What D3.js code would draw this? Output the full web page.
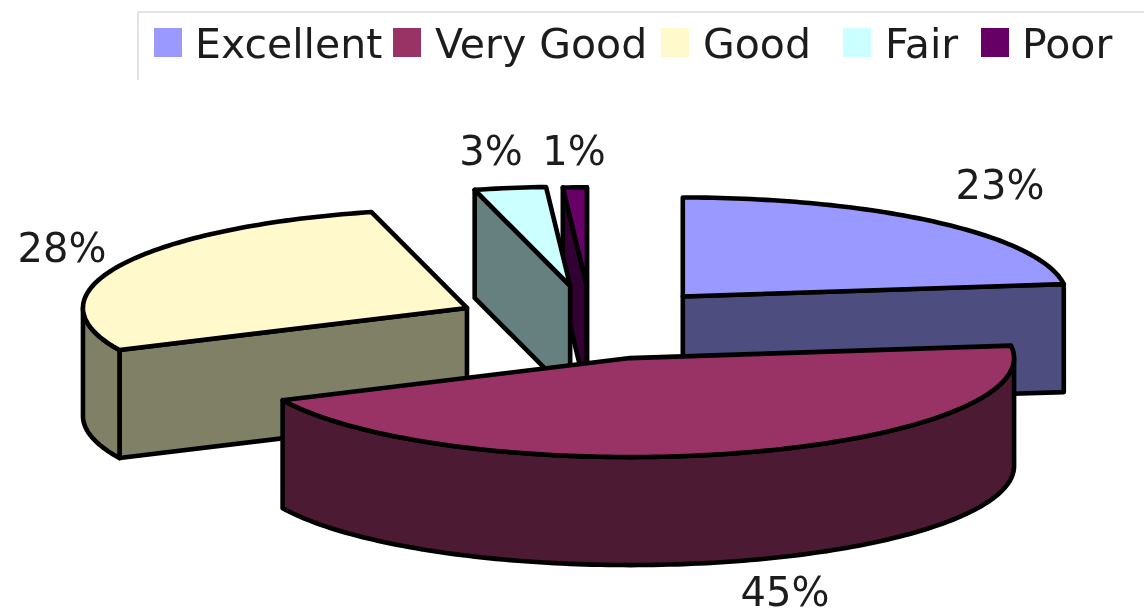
<!DOCTYPE html>
<html><head><meta charset="utf-8">
<script src="https://cdnjs.cloudflare.com/ajax/libs/d3/7.8.5/d3.min.js"></script>
<style>html,body{margin:0;padding:0;background:#fff}svg{display:block;filter:blur(.7px)}</style>
</head><body><svg id="c" width="1144" height="616"></svg>
<script>
const categories = ["Excellent","Very Good","Good","Fair","Poor"];
const values = [23,45,28,3,1];
const labels = ["23%","45%","28%","3%","1%"];
const topColors = ["#9999ff","#993366","#fff9cc","#ccffff","#660066"];
const sideColors = ["#4d4d80","#4d1a33","#808066","#668080","#330033"];

// layout
const W=1144,H=616, RX=384, RY=99, DEPTH=108;
const cx=599, cy=321;
const explode=[0.33,0.29,0.38,0.48,1.0];
const explodeY=[0.33,0.39,0.31,0.36,0.35];
const labelAt=[[1000,199],[785,606],[62,262],[491,165],[574,165]];
const legendSwatchX=[154,393,661,843,981];
const legendTextX=[195,435,703,885,1022];

const svg=d3.select("#c");
const sx=d3.scaleLinear().domain([-1,1]).range([-RX,RX]);
const sy=d3.scaleLinear().domain([-1,1]).range([RY,-RY]);
const line=d3.line();
const unit=a=>[Math.sin(a),Math.cos(a)];
const pie=d3.pie().sort(null).value(d=>d)(values);

const slices=pie.map((p,i)=>{
  const mid=(p.startAngle+p.endAngle)/2, [ux,uy]=unit(mid);
  const apex=[cx+sx(ux*explode[i]),cy+sy(uy*explodeY[i])];
  const pt=a=>{const [x,y]=unit(a);return [apex[0]+sx(x),apex[1]+sy(y)];};
  return {i,a0:p.startAngle,a1:p.endAngle,mid,apex,pt};
});
const down=p=>[p[0],p[1]+DEPTH];
const arcPts=(s,a,b)=>{const n=Math.max(2,Math.ceil((b-a)/0.02));return d3.range(n+1).map(k=>s.pt(a+(b-a)*k/n));};

function drawSlice(s){
  const g=svg.append("g").attr("stroke","#000").attr("stroke-width",4.6).attr("stroke-linejoin","round");
  const side=sideColors[s.i], top=topColors[s.i];
  const faces=[s.a0,s.a1].map(a=>{
    const P=s.pt(a), A=s.apex, M=s.pt(s.mid);
    let n=[-(P[1]-A[1]),P[0]-A[0]];
    if(n[0]*(M[0]-A[0])+n[1]*(M[1]-A[1])>0) n=[-n[0],-n[1]];
    return {P,vis:n[1]>0};
  });
  faces.filter(f=>f.vis).forEach(f=>{
    g.append("path").attr("fill",side).attr("d",line([s.apex,f.P,down(f.P),down(s.apex)])+"Z");
  });
  const lo=Math.max(s.a0,Math.PI/2), hi=Math.min(s.a1,Math.PI*1.5);
  if(hi>lo){
    const pts=arcPts(s,lo,hi);
    g.append("path").attr("fill",side).attr("d",line(pts.concat(pts.slice().reverse().map(down)))+"Z");
  }
  g.append("path").attr("fill",top).attr("d",line([s.apex].concat(arcPts(s,s.a0,s.a1)))+"Z");
}
[4,3,0,2,1].forEach(i=>drawSlice(slices[i]));

labels.forEach((t,i)=>svg.append("text").attr("x",labelAt[i][0]).attr("y",labelAt[i][1])
  .attr("text-anchor","middle").attr("font-family","DejaVu Sans").attr("font-size",40).attr("fill","#1c1c1c").text(t));

svg.append("path").attr("fill","none").attr("stroke","#dcdcdc").attr("stroke-width",1.5)
  .attr("d",line([[138,80],[138,12],[1144,12]]));
categories.forEach((c,i)=>{
  svg.append("rect").attr("x",legendSwatchX[i]).attr("y",28).attr("width",28).attr("height",29).attr("fill",topColors[i]);
  svg.append("text").attr("x",legendTextX[i]).attr("y",58).attr("font-family","DejaVu Sans").attr("font-size",41)
    .attr("fill","#1c1c1c").text(c);
});
</script></body></html>
